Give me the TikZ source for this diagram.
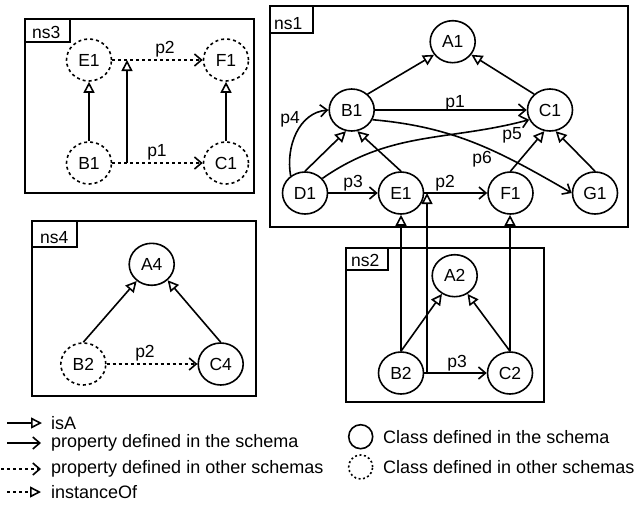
\documentclass[tikz,border=0pt]{standalone}
\usepackage{fontspec}
\setmainfont{Liberation Sans}
\usetikzlibrary{arrows.meta,shapes.geometric}
\begin{document}
\begin{tikzpicture}[x=1pt,y=-1pt,
 every node/.style={font=\fontsize{17.5}{20}\selectfont},
 cls/.style={draw, ellipse, line width=1.6pt, minimum width=45pt, minimum height=42pt, inner sep=0pt},
 ext/.style={cls, dash pattern=on 3pt off 3pt},
 isa/.style={line width=1.6pt, -{Triangle[open,length=11pt,width=11pt,fill=white]}},
 prop/.style={line width=1.6pt, -{Straight Barb[length=7pt,width=12pt]}},
 xprop/.style={prop, dash pattern=on 3pt off 3pt},
 inst/.style={isa, dash pattern=on 3pt off 3pt},
 box/.style={draw, line width=1.6pt},
 lbl/.style={inner sep=1pt},
 tablbl/.style={inner sep=0pt, anchor=base west},
 leg/.style={inner sep=0pt, anchor=west, font=\fontsize{18}{21}\selectfont},
]
\useasboundingbox (0,0) rectangle (642,504);

% ---------- boxes ----------
\draw[box] (25,19) rectangle (254,193);
\draw[box] (25,19) rectangle (70,41.7);
\node[tablbl] (t3) at (32,38) {ns3};

\draw[box] (270,6) rectangle (628,227);
\draw[box] (270,6) rectangle (313,33);
\node[tablbl] (t1) at (274,29) {ns1};

\draw[box] (32,221) rectangle (256,396);
\draw[box] (32,221) rectangle (77,247);
\node[tablbl] (t4) at (40,243) {ns4};

\draw[box] (346,248) rectangle (544,402);
\draw[box] (346,248) rectangle (388,270);
\node[tablbl] (t2) at (351,266) {ns2};

% ---------- ns3 ----------
\node[ext] (E1a) at (89,60) {E1};
\node[ext] (F1a) at (226,60) {F1};
\node[ext] (B1a) at (89,163) {B1};
\node[ext] (C1a) at (226,163) {C1};
\draw[isa] (B1a) -- (E1a);
\draw[isa] (C1a) -- (F1a);
\draw[xprop] (E1a) -- (F1a);
\draw[xprop] (B1a) -- (C1a);
\node[lbl] (l3p2) at (165,49) {p2};
\node[lbl] (l3p1) at (157,152) {p1};
\coordinate (q1) at (127,163);
\coordinate (q2) at (127,60);
\draw[isa] (q1) -- (q2);

% ---------- ns1 ----------
\node[cls] (A1) at (452.7,41.7) {A1};
\node[cls] (B1) at (351.7,110) {B1};
\node[cls] (C1) at (550,110) {C1};
\node[cls] (D1) at (305,193) {D1};
\node[cls] (E1) at (401,193) {E1};
\node[cls] (F1) at (510.5,193) {F1};
\node[cls] (G1) at (595,193) {G1};
\draw[isa] (B1.45) -- (A1.215);
\draw[isa] (C1.135) -- (A1.325);
\draw[isa] (D1.north) -- (B1.255);
\draw[isa] (E1.north) -- (B1.285);
\draw[isa] (F1.north) -- (C1.255);
\draw[isa] (G1.north) -- (C1.285);
\draw[prop] (B1) -- (C1);
\draw[prop] (D1) -- (E1);
\draw[prop] (E1) -- (F1);
\draw[prop] (D1.130) to[out=100,in=185] (B1.west);
\draw[prop] (D1.40) to[out=35,in=195] (C1.205);
\draw[prop] (B1.-25) to[out=-5,in=150] (G1.west);
\node[lbl] (l1p1) at (455,103) {p1};
\node[lbl] (l1p3) at (353,183) {p3};
\node[lbl] (l1p2) at (445,183) {p2};
\node[lbl] (l1p4) at (290,119) {p4};
\node[lbl] (l1p5) at (512,135) {p5};
\node[lbl] (l1p6) at (482,159) {p6};

% ---------- ns4 ----------
\node[cls] (A4) at (151.7,264.3) {A4};
\node[ext] (B2a) at (83.3,364) {B2};
\node[cls] (C4) at (220.7,364) {C4};
\draw[isa] (B2a.north) -- (A4.228);
\draw[isa] (C4.north) -- (A4.315);
\draw[xprop] (B2a) -- (C4);
\node[lbl] (l4p2) at (145,353) {p2};

% ---------- ns2 ----------
\node[cls] (A2) at (454.7,275.7) {A2};
\node[cls] (B2) at (401,373) {B2};
\node[cls] (C2) at (510,373) {C2};
\draw[isa] (B2.north) -- (A2.235);
\draw[isa] (C2.north) -- (A2.305);
\draw[prop] (B2) -- (C2);
\node[lbl] (l2p3) at (457,363) {p3};
\draw[isa] (B2.north) -- (E1.south);
\draw[isa] (C2.north) -- (C2.north |- F1.south);
\coordinate (r1) at (427,373);
\coordinate (r2) at (427,193);
\draw[isa] (r1) -- (r2);

% ---------- legend ----------
\coordinate (a1) at (7,423);  \coordinate (a2) at (42,423);
\coordinate (b1) at (7,443);  \coordinate (b2) at (41,443);
\coordinate (c1) at (1,469);  \coordinate (c2) at (41,469);
\coordinate (d1) at (7,492);  \coordinate (d2) at (41,492);
\draw[isa] (a1) -- (a2);
\draw[prop] (b1) -- (b2);
\draw[xprop] (c1) -- (c2);
\draw[inst] (d1) -- (d2);
\node[leg] (ta) at (51,423) {isA};
\node[leg] (tb) at (51,443) {property defined in the schema};
\node[leg] (tc) at (51,469) {property defined in other schemas};
\node[leg] (td) at (51,492) {instanceOf};
\node[draw, circle, line width=1.6pt, minimum size=24pt, inner sep=0pt] (lc1) at (360.7,436.7) {};
\node[draw, circle, line width=1.6pt, minimum size=24pt, inner sep=0pt, dash pattern=on 2pt off 2.5pt] (lc2) at (360.7,467) {};
\node[leg] (te) at (383,436.7) {Class defined in the schema};
\node[leg] (tf) at (383,467) {Class defined in other schemas};
\end{tikzpicture}
\end{document}
